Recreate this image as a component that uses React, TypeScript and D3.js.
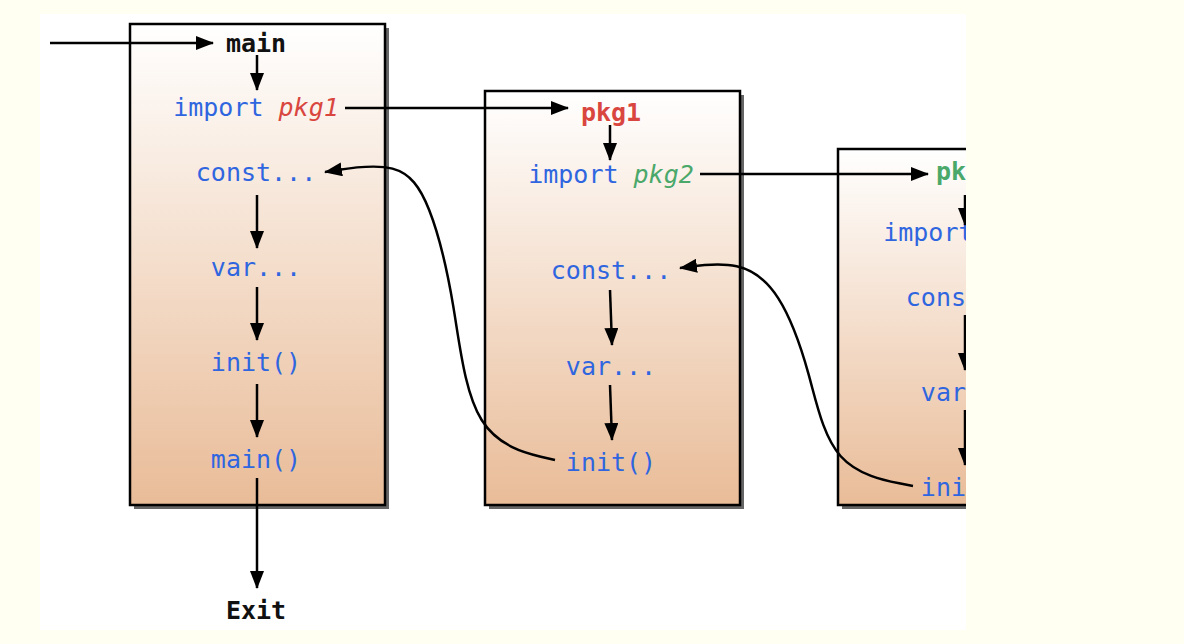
import React from 'react';
import * as d3 from 'd3';

// box frames: [x, y, width, height]
const boxes = [
    [130, 24, 255, 481],
    [485, 91, 255, 414],
    [838, 149, 260, 356],
];

type Item = { x: number; y: number; parts: { t: string; c: string; b?: boolean; i?: boolean }[] };
const BLUE = '#2f66e0';
const RED = '#d9463f';
const GREEN = '#4aa86a';
const BLACK = '#111';

const labels: Item[] = [
    { x: 256, y: 43, parts: [{ t: 'main', c: BLACK, b: true }] },
    { x: 256, y: 107, parts: [{ t: 'import ', c: BLUE }, { t: 'pkg1', c: RED, i: true }] },
    { x: 256, y: 172, parts: [{ t: 'const...', c: BLUE }] },
    { x: 256, y: 267, parts: [{ t: 'var...', c: BLUE }] },
    { x: 256, y: 362, parts: [{ t: 'init()', c: BLUE }] },
    { x: 256, y: 459, parts: [{ t: 'main()', c: BLUE }] },
    { x: 256, y: 610, parts: [{ t: 'Exit', c: BLACK, b: true }] },
    { x: 611, y: 112, parts: [{ t: 'pkg1', c: RED, b: true }] },
    { x: 611, y: 174, parts: [{ t: 'import ', c: BLUE }, { t: 'pkg2', c: GREEN, i: true }] },
    { x: 611, y: 270, parts: [{ t: 'const...', c: BLUE }] },
    { x: 611, y: 366, parts: [{ t: 'var...', c: BLUE }] },
    { x: 611, y: 462, parts: [{ t: 'init()', c: BLUE }] },
    { x: 966, y: 171, parts: [{ t: 'pkg2', c: GREEN, b: true }] },
    { x: 966, y: 232, parts: [{ t: 'import ', c: BLUE }, { t: 'pkg3', c: '#a050c0', i: true }] },
    { x: 966, y: 297, parts: [{ t: 'const...', c: BLUE }] },
    { x: 966, y: 392, parts: [{ t: 'var...', c: BLUE }] },
    { x: 966, y: 487, parts: [{ t: 'init()', c: BLUE }] },
];

// straight arrows: [x1, y1, x2, y2]
const arrows = [
    [50, 43, 213, 43],
    [257, 55, 257, 90],
    [257, 195, 257, 248],
    [257, 287, 257, 340],
    [257, 384, 257, 437],
    [257, 478, 257, 588],
    [345, 108, 568, 108],
    [610, 125, 610, 160],
    [610, 290, 612, 345],
    [610, 385, 612, 440],
    [700, 174, 928, 174],
    [965, 195, 965, 225],
    [965, 315, 965, 370],
    [965, 410, 965, 465],
];

// return curves: control points
const curves = [
    [[555, 460], [470, 440], [455, 300], [430, 200], [400, 160], [325, 172]],
    [[913, 486], [830, 470], [810, 370], [780, 290], [740, 260], [680, 268]],
];

const FONT = "'DejaVu Sans Mono', 'Liberation Mono', monospace";

export default function App() {
    const line = d3.line<number[]>().x((d) => d[0]).y((d) => d[1]).curve(d3.curveBasis);
    return (
        <div style={{ position: 'fixed', left: 0, top: 0 }}>
            <svg width={1184} height={644} style={{ display: 'block' }}>
                <defs>
                    <linearGradient id="peach" x1="0" y1="0" x2="0" y2="1">
                        <stop offset="0" stopColor="#ffffff" />
                        <stop offset="1" stopColor="#e9bc98" />
                    </linearGradient>
                    <marker id="ah" viewBox="0 0 18 14" refX="17" refY="7" markerWidth="18" markerHeight="14" markerUnits="userSpaceOnUse" orient="auto">
                        <path d="M0,0 L18,7 L0,14 Z" fill="#000" />
                    </marker>
                    <clipPath id="panel">
                        <rect x={40} y={14} width={926} height={616} />
                    </clipPath>
                </defs>
                <rect width={1184} height={644} fill="#fffff2" />
                <rect x={40} y={14} width={926} height={616} fill="#ffffff" />
                <g clipPath="url(#panel)">
                    {boxes.map(([x, y, w, h], i) => (
                        <g key={i}>
                            <rect x={x + 4} y={y + 4} width={w} height={h} fill="#333" opacity={0.75} />
                            <rect x={x} y={y} width={w} height={h} fill="url(#peach)" stroke="#000" strokeWidth={2.5} />
                        </g>
                    ))}
                    {labels.map((l, i) => (
                        <text key={i} x={l.x} y={l.y} textAnchor="middle" dominantBaseline="central" fontFamily={FONT} fontSize={25}>
                            {l.parts.map((p, j) => (
                                <tspan key={j} fill={p.c} fontWeight={p.b ? 'bold' : 'normal'} fontStyle={p.i ? 'italic' : 'normal'}>{p.t}</tspan>
                            ))}
                        </text>
                    ))}
                    {arrows.map(([x1, y1, x2, y2], i) => (
                        <line key={i} x1={x1} y1={y1} x2={x2} y2={y2} stroke="#000" strokeWidth={2.5} markerEnd="url(#ah)" />
                    ))}
                    {curves.map((c, i) => (
                        <path key={i} d={line(c) ?? ''} fill="none" stroke="#000" strokeWidth={2.5} markerEnd="url(#ah)" />
                    ))}
                </g>
            </svg>
        </div>
    );
}
